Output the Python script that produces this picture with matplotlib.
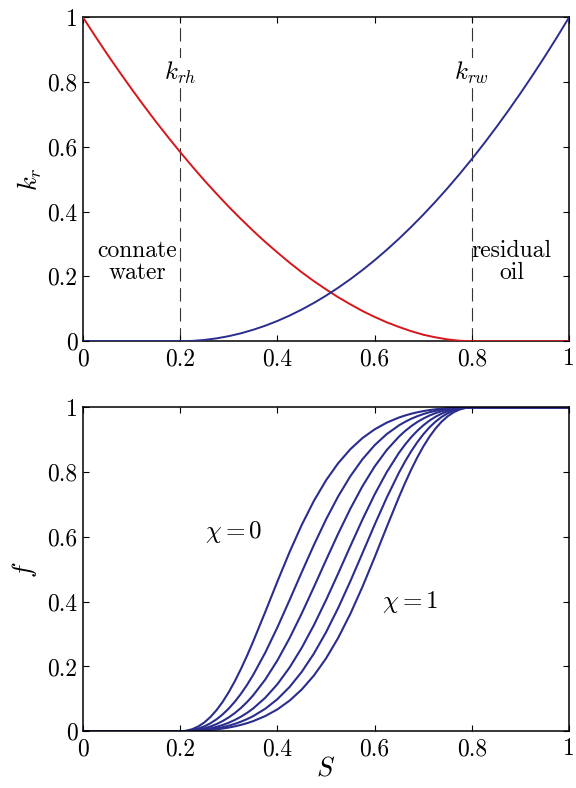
import matplotlib as mpl
import matplotlib.pyplot as plt

mpl.use("Agg")

plt.rcParams["font.family"] = "serif"
plt.rcParams["font.serif"] = ["cmr10", "DejaVu Serif"]
plt.rcParams["mathtext.fontset"] = "cm"
plt.rcParams["axes.formatter.use_mathtext"] = True

# Relative permeability curves (top panel)
s_top = [0.0, 0.025, 0.05, 0.075, 0.1, 0.125, 0.15, 0.175, 0.2, 0.225,
         0.25, 0.275, 0.3, 0.325, 0.35, 0.375, 0.4, 0.425, 0.45, 0.475,
         0.5, 0.525, 0.55, 0.575, 0.6, 0.625, 0.65, 0.675, 0.7, 0.725,
         0.75, 0.775, 0.8, 0.825, 0.85, 0.875, 0.9, 0.925, 0.95, 0.975, 1.0]
kr_h = [1.0, 0.9424, 0.886, 0.8318, 0.779, 0.7278, 0.678, 0.6303, 0.584, 0.5393,
        0.496, 0.4549, 0.415, 0.3773, 0.341, 0.3064, 0.274, 0.2425, 0.213, 0.1855,
        0.160, 0.1358, 0.114, 0.0933, 0.075, 0.0583, 0.044, 0.0311, 0.020, 0.0120,
        0.0056, 0.0015, 0.0, 0.0, 0.0, 0.0, 0.0, 0.0, 0.0, 0.0, 0.0]
kr_w = [0.0, 0.0, 0.0, 0.0, 0.0, 0.0, 0.0, 0.0, 0.0, 0.00098,
        0.0039, 0.00879, 0.0156, 0.02441, 0.0352, 0.04785, 0.0625, 0.0791, 0.0977, 0.11816,
        0.1406, 0.16504, 0.1914, 0.21973, 0.25, 0.28223, 0.3164, 0.35254, 0.3906, 0.43066,
        0.4727, 0.5166, 0.5625, 0.61035, 0.6602, 0.71191, 0.7656, 0.82129, 0.8789, 0.93848, 1.0]

# Fractional flow curves (bottom panel), chi = 0 ... 1
s_frac = [0.0, 0.2, 0.2125, 0.225, 0.2375, 0.25, 0.2625, 0.275, 0.2875, 0.3,
          0.3125, 0.325, 0.3375, 0.35, 0.375, 0.4, 0.425, 0.45, 0.475, 0.5,
          0.525, 0.55, 0.575, 0.6, 0.625, 0.65, 0.6625, 0.675, 0.6875, 0.7,
          0.7125, 0.725, 0.7375, 0.75, 0.7625, 0.775, 0.7875, 0.8, 1.0]
f_chi = [
    [0, 0, 0.0016, 0.0065, 0.0151, 0.0276, 0.0444, 0.0656, 0.0911, 0.1210,
     0.1548, 0.1924, 0.2332, 0.2765, 0.3684, 0.4624, 0.5532, 0.6370, 0.7112, 0.7748,
     0.8277, 0.8708, 0.9053, 0.9322, 0.9530, 0.9687, 0.9749, 0.9803, 0.9848, 0.9885,
     0.9916, 0.9941, 0.9961, 0.9976, 0.9987, 0.9995, 0.9999, 1, 1],
    [0, 0, 0.0009, 0.0036, 0.0083, 0.0154, 0.0249, 0.0371, 0.0522, 0.0703,
     0.0914, 0.1157, 0.1431, 0.1736, 0.2427, 0.3209, 0.4049, 0.4909, 0.5750, 0.6540,
     0.7253, 0.7874, 0.8400, 0.8832, 0.9177, 0.9445, 0.9553, 0.9647, 0.9726, 0.9793,
     0.9848, 0.9893, 0.9929, 0.9956, 0.9977, 0.9990, 0.9998, 1, 1],
    [0, 0, 0.0005, 0.0021, 0.0050, 0.0092, 0.0149, 0.0223, 0.0316, 0.0429,
     0.0563, 0.0720, 0.0901, 0.1107, 0.1596, 0.2188, 0.2874, 0.3636, 0.4450, 0.5283,
     0.6100, 0.6870, 0.7568, 0.8175, 0.8685, 0.9097, 0.9269, 0.9418, 0.9546, 0.9655,
     0.9746, 0.9821, 0.9881, 0.9927, 0.9960, 0.9983, 0.9996, 1, 1],
    [0, 0, 0.0003, 0.0013, 0.0030, 0.0056, 0.0091, 0.0137, 0.0194, 0.0265,
     0.0349, 0.0450, 0.0567, 0.0702, 0.1034, 0.1453, 0.1967, 0.2576, 0.3275, 0.4048,
     0.4871, 0.5713, 0.6538, 0.7312, 0.8004, 0.8596, 0.8850, 0.9076, 0.9274, 0.9444,
     0.9589, 0.9709, 0.9805, 0.9880, 0.9935, 0.9972, 0.9993, 1, 1],
    [0, 0, 0.0002, 0.0008, 0.0020, 0.0036, 0.0059, 0.0089, 0.0127, 0.0173,
     0.0229, 0.0296, 0.0374, 0.0466, 0.0694, 0.0991, 0.1367, 0.1833, 0.2396, 0.3056,
     0.3806, 0.4631, 0.5500, 0.6377, 0.7218, 0.7984, 0.8327, 0.8640, 0.8920, 0.9167,
     0.9379, 0.9557, 0.9702, 0.9816, 0.9900, 0.9957, 0.9990, 1, 1],
    [0, 0, 0.0001, 0.0005, 0.0013, 0.0024, 0.0039, 0.0059, 0.0084, 0.0115,
     0.0152, 0.0197, 0.0250, 0.0312, 0.0469, 0.0676, 0.0945, 0.1289, 0.1719, 0.2248,
     0.2883, 0.3624, 0.4462, 0.5370, 0.6310, 0.7230, 0.7664, 0.8072, 0.8449, 0.8788,
     0.9087, 0.9343, 0.9555, 0.9723, 0.9849, 0.9935, 0.9984, 1, 1],
]

ticks = [0, 0.2, 0.4, 0.6, 0.8, 1.0]
tick_labels = ["0", "0.2", "0.4", "0.6", "0.8", "1"]
s_marks = [0.2, 0.8]

red = "#d7161b"
blue = "#2a2d8e"

fig = plt.figure(figsize=(5.76, 7.88), dpi=100)
ax1 = fig.add_axes([0.144, 0.567, 0.844, 0.411])
ax2 = fig.add_axes([0.144, 0.072, 0.844, 0.411])

for ax in (ax1, ax2):
    ax.set_xlim(0, 1)
    ax.set_ylim(0, 1)
    ax.set_xticks(ticks)
    ax.set_xticklabels(tick_labels)
    ax.set_yticks(ticks)
    ax.set_yticklabels(tick_labels)
    ax.tick_params(direction="in", length=4, width=0.8, top=True, right=True,
                   labelsize=17)
    ax.tick_params(axis="x", pad=5)
    ax.tick_params(axis="y", pad=4)
    for sp in ax.spines.values():
        sp.set_linewidth(1.1)

# Top panel
ax1.plot(s_top, kr_h, color=red, lw=1.4, zorder=3)
ax1.plot(s_top, kr_w, color=blue, lw=1.4, zorder=3)
for s in s_marks:
    ax1.axvline(s, color="#333333", lw=0.8, ls=(0, (12, 6)), zorder=1)
ax1.text(0.2, 0.83, "$k_{rh}$", ha="center", va="center", fontsize=18, zorder=4,
         bbox=dict(facecolor="white", edgecolor="none", pad=1))
ax1.text(0.8, 0.83, "$k_{rw}$", ha="center", va="center", fontsize=18, zorder=4,
         bbox=dict(facecolor="white", edgecolor="none", pad=1))
ax1.text(0.111, 0.245, "connate\nwater", ha="center", va="center", fontsize=17,
         linespacing=0.95)
ax1.text(0.882, 0.245, "residual\noil", ha="center", va="center", fontsize=17,
         linespacing=0.95)
ax1.set_ylabel("$k_r$", fontsize=19, labelpad=2)

# Bottom panel
for f in f_chi:
    ax2.plot(s_frac, f, color=blue, lw=1.5, solid_joinstyle="round")
ax2.text(0.311, 0.614, r"$\chi = 0$", ha="center", va="center", fontsize=18)
ax2.text(0.673, 0.398, r"$\chi = 1$", ha="center", va="center", fontsize=18)
ax2.set_ylabel("$f$", fontsize=19, labelpad=6)
ax2.set_xlabel("$S$", fontsize=19, labelpad=-3)

fig.savefig("out.png", dpi=100)
plt.close(fig)
